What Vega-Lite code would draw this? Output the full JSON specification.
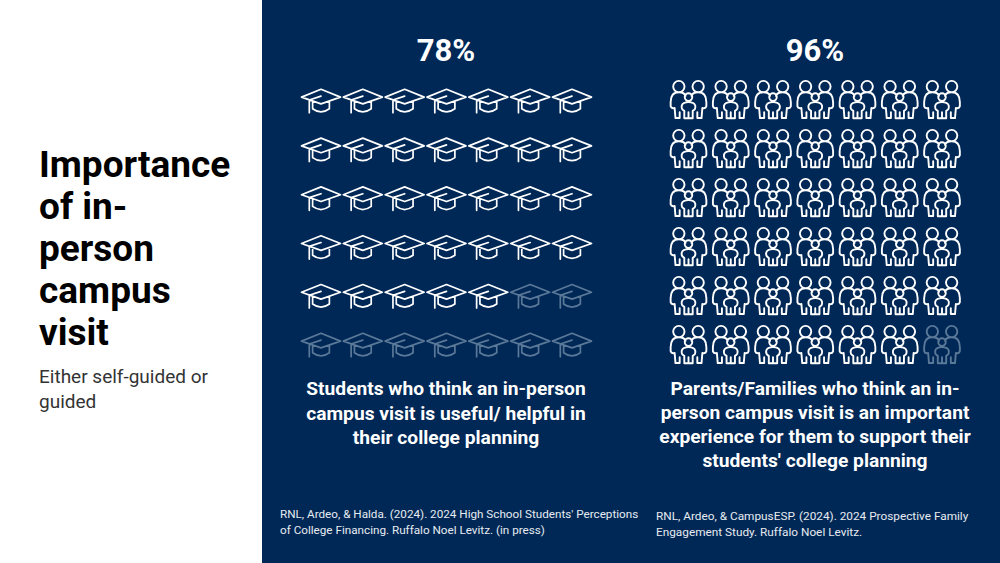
{
"$schema":"https://vega.github.io/schema/vega-lite/v6.json",
"width":1000,"height":563,"autosize":{"type":"fit","contains":"padding"},"padding":0,"background":"#ffffff",
"config":{"view":{"stroke":null},"text":{"font":"Roboto"}},
"datasets":{"caps":[
{"col":0,"row":0,"status":"full"},{"col":1,"row":0,"status":"full"},{"col":2,"row":0,"status":"full"},{"col":3,"row":0,"status":"full"},{"col":4,"row":0,"status":"full"},{"col":5,"row":0,"status":"full"},{"col":6,"row":0,"status":"full"},
{"col":0,"row":1,"status":"full"},{"col":1,"row":1,"status":"full"},{"col":2,"row":1,"status":"full"},{"col":3,"row":1,"status":"full"},{"col":4,"row":1,"status":"full"},{"col":5,"row":1,"status":"full"},{"col":6,"row":1,"status":"full"},
{"col":0,"row":2,"status":"full"},{"col":1,"row":2,"status":"full"},{"col":2,"row":2,"status":"full"},{"col":3,"row":2,"status":"full"},{"col":4,"row":2,"status":"full"},{"col":5,"row":2,"status":"full"},{"col":6,"row":2,"status":"full"},
{"col":0,"row":3,"status":"full"},{"col":1,"row":3,"status":"full"},{"col":2,"row":3,"status":"full"},{"col":3,"row":3,"status":"full"},{"col":4,"row":3,"status":"full"},{"col":5,"row":3,"status":"full"},{"col":6,"row":3,"status":"full"},
{"col":0,"row":4,"status":"full"},{"col":1,"row":4,"status":"full"},{"col":2,"row":4,"status":"full"},{"col":3,"row":4,"status":"full"},{"col":4,"row":4,"status":"full"},{"col":5,"row":4,"status":"faded"},{"col":6,"row":4,"status":"faded"},
{"col":0,"row":5,"status":"faded"},{"col":1,"row":5,"status":"faded"},{"col":2,"row":5,"status":"faded"},{"col":3,"row":5,"status":"faded"},{"col":4,"row":5,"status":"faded"},{"col":5,"row":5,"status":"faded"},{"col":6,"row":5,"status":"faded"}
],"people":[
{"col":0,"row":0,"status":"full"},{"col":1,"row":0,"status":"full"},{"col":2,"row":0,"status":"full"},{"col":3,"row":0,"status":"full"},{"col":4,"row":0,"status":"full"},{"col":5,"row":0,"status":"full"},{"col":6,"row":0,"status":"full"},
{"col":0,"row":1,"status":"full"},{"col":1,"row":1,"status":"full"},{"col":2,"row":1,"status":"full"},{"col":3,"row":1,"status":"full"},{"col":4,"row":1,"status":"full"},{"col":5,"row":1,"status":"full"},{"col":6,"row":1,"status":"full"},
{"col":0,"row":2,"status":"full"},{"col":1,"row":2,"status":"full"},{"col":2,"row":2,"status":"full"},{"col":3,"row":2,"status":"full"},{"col":4,"row":2,"status":"full"},{"col":5,"row":2,"status":"full"},{"col":6,"row":2,"status":"full"},
{"col":0,"row":3,"status":"full"},{"col":1,"row":3,"status":"full"},{"col":2,"row":3,"status":"full"},{"col":3,"row":3,"status":"full"},{"col":4,"row":3,"status":"full"},{"col":5,"row":3,"status":"full"},{"col":6,"row":3,"status":"full"},
{"col":0,"row":4,"status":"full"},{"col":1,"row":4,"status":"full"},{"col":2,"row":4,"status":"full"},{"col":3,"row":4,"status":"full"},{"col":4,"row":4,"status":"full"},{"col":5,"row":4,"status":"full"},{"col":6,"row":4,"status":"full"},
{"col":0,"row":5,"status":"full"},{"col":1,"row":5,"status":"full"},{"col":2,"row":5,"status":"full"},{"col":3,"row":5,"status":"full"},{"col":4,"row":5,"status":"full"},{"col":5,"row":5,"status":"full"},{"col":6,"row":5,"status":"faded"}
]},
"resolve":{"scale":{"x":"independent","y":"independent"}},
"layer":[
{"data":{"values":[{"panel":"navy"}]},"mark":{"type":"rect","color":"#002856"},"encoding":{"x":{"value":262},"x2":{"value":1000},"y":{"value":0},"y2":{"value":563}}},
{"data":{"name":"caps"},"mark":{"type":"point","filled":false,"strokeWidth":1.7,"strokeJoin":"round","strokeCap":"round","opacity":1,"size":1521,"shape":"M-1,-0.2 L0,-0.6 L1,-0.2 L0,0.15 Z M0,-0.25 L-0.6,-0.05 L-0.6,0.6 M-0.43,0.02 L-0.43,0.4 Q0,0.72 0.43,0.4 L0.43,0.02"},
 "encoding":{"x":{"field":"col","type":"quantitative","axis":null,"scale":{"domain":[0,6],"range":[321,572]}},
 "y":{"field":"row","type":"quantitative","axis":null,"scale":{"domain":[0,5],"range":[101,345]}},
 "color":{"field":"status","type":"nominal","legend":null,"scale":{"domain":["full","faded"],"range":["#ffffff","#5a7898"]}}}},
{"data":{"name":"people"},"mark":{"type":"point","filled":false,"strokeWidth":1.9,"strokeJoin":"round","strokeCap":"round","opacity":1,"size":1764,"shape":"M-0.73,-0.64 A0.27,0.27 0 1 1 -0.19,-0.64 A0.27,0.27 0 1 1 -0.73,-0.64 Z M0.19,-0.64 A0.27,0.27 0 1 1 0.73,-0.64 A0.27,0.27 0 1 1 0.19,-0.64 Z M-0.18,-0.14 A0.18,0.18 0 1 1 0.18,-0.14 A0.18,0.18 0 1 1 -0.18,-0.14 Z M-0.14,-0.2 Q-0.2,-0.37 -0.46,-0.37 Q-0.85,-0.37 -0.85,0.1 L-0.85,0.3 Q-0.82,0.42 -0.66,0.38 L-0.62,0.86 L-0.42,0.86 L-0.42,0.58 M0.14,-0.2 Q0.2,-0.37 0.46,-0.37 Q0.85,-0.37 0.85,0.1 L0.85,0.3 Q0.82,0.42 0.66,0.38 L0.62,0.86 L0.42,0.86 L0.42,0.58 M-0.2,0.52 Q-0.36,0.44 -0.32,0.26 Q-0.27,0.1 0,0.1 Q0.27,0.1 0.32,0.26 Q0.36,0.44 0.2,0.52 L0.2,0.87 L-0.2,0.87 Z M0,0.58 L0,0.87"},
 "encoding":{"x":{"field":"col","type":"quantitative","axis":null,"scale":{"domain":[0,6],"range":[688.5,942]}},
 "y":{"field":"row","type":"quantitative","axis":null,"scale":{"domain":[0,5],"range":[100,345]}},
 "color":{"field":"status","type":"nominal","legend":null,"scale":{"domain":["full","faded"],"range":["#ffffff","#5a7898"]}}}},
{"data":{"values":[{"t":"title"}]},"mark":{"type":"text","text":["Importance","of in-","person","campus","visit"],"x":39,"y":177,"align":"left","baseline":"alphabetic","fontSize":37,"fontWeight":"bold","lineHeight":42,"color":"#000000"}},
{"data":{"values":[{"t":"sub"}]},"mark":{"type":"text","text":["Either self-guided or","guided"],"x":39,"y":383,"align":"left","baseline":"alphabetic","fontSize":19,"lineHeight":25,"color":"#333333"}},
{"data":{"values":[{"t":"a"}]},"mark":{"type":"text","text":"78%","x":446,"y":61,"align":"center","baseline":"alphabetic","fontSize":31,"fontWeight":"bold","color":"#ffffff"}},
{"data":{"values":[{"t":"b"}]},"mark":{"type":"text","text":"96%","x":815,"y":61,"align":"center","baseline":"alphabetic","fontSize":31,"fontWeight":"bold","color":"#ffffff"}},
{"data":{"values":[{"t":"c"}]},"mark":{"type":"text","text":["Students who think an in-person","campus visit is useful/ helpful in","their college planning"],"x":446,"y":395,"align":"center","baseline":"alphabetic","fontSize":19.2,"fontWeight":"bold","lineHeight":24.5,"color":"#ffffff"}},
{"data":{"values":[{"t":"d"}]},"mark":{"type":"text","text":["Parents/Families who think an in-","person campus visit is an important","experience for them to support their","students' college planning"],"x":815,"y":395,"align":"center","baseline":"alphabetic","fontSize":19.2,"fontWeight":"bold","lineHeight":24,"color":"#ffffff"}},
{"data":{"values":[{"t":"e"}]},"mark":{"type":"text","text":["RNL, Ardeo, & Halda. (2024). 2024 High School Students' Perceptions","of College Financing. Ruffalo Noel Levitz.  (in press)"],"x":280,"y":518,"align":"left","baseline":"alphabetic","fontSize":11.7,"lineHeight":15.5,"color":"#e6ebf1"}},
{"data":{"values":[{"t":"f"}]},"mark":{"type":"text","text":["RNL, Ardeo, & CampusESP. (2024). 2024 Prospective Family","Engagement Study. Ruffalo Noel Levitz."],"x":656,"y":520,"align":"left","baseline":"alphabetic","fontSize":11.8,"lineHeight":16,"color":"#e6ebf1"}}
]
}
